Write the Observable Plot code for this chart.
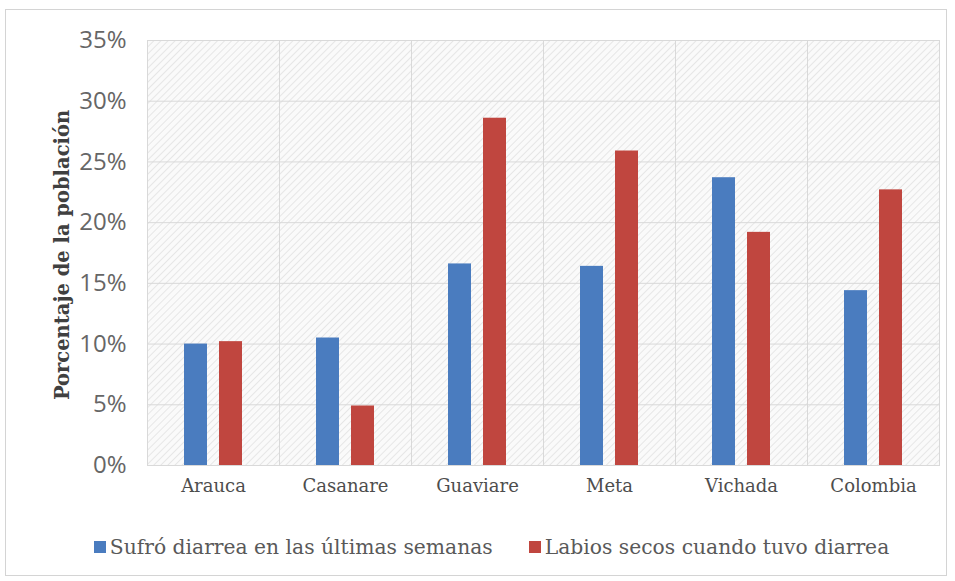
<!DOCTYPE html>
<html>
<head>
<meta charset="utf-8">
<script src="https://cdn.jsdelivr.net/npm/d3@7"></script>
<script src="https://cdn.jsdelivr.net/npm/@observablehq/plot@0.6"></script>
<style>
  body { margin: 0; background: #fff; }
  #wrap { position: relative; width: 955px; height: 581px; overflow: hidden; }
  #border { position: absolute; left: 5px; top: 9px; width: 942px; height: 567px; border: 1px solid #d4d4d4; box-sizing: border-box; }
  #chart { position: absolute; left: 0; top: 0; }
  #ytitle { position: absolute; left: 62px; top: 255px; transform: translate(-50%, -50%) rotate(-90deg); white-space: nowrap;
    font-family: "DejaVu Serif", serif; font-weight: bold; font-size: 19.5px; color: #404040; }
  #legend { position: absolute; top: 535px; left: 14px; width: 955px; display: flex; justify-content: center; gap: 36px;
    font-family: "DejaVu Serif", serif; font-size: 20.3px; color: #595959; }
  .item { display: flex; align-items: center; }
  .sw { width: 12px; height: 12px; margin-right: 4px; }
</style>
</head>
<body>
<div id="wrap">
  <div id="border"></div>
  <div id="chart"></div>
  <div id="ytitle">Porcentaje de la población</div>
  <div id="legend"></div>
</div>
<script>
const categories = ["Arauca", "Casanare", "Guaviare", "Meta", "Vichada", "Colombia"];
const series = ["Sufró diarrea en las últimas semanas", "Labios secos cuando tuvo diarrea"];
const sufroDiarrea = [0.100, 0.105, 0.166, 0.164, 0.237, 0.144];
const labiosSecos = [0.102, 0.049, 0.286, 0.259, 0.192, 0.227];
const yTicks = [0, 0.05, 0.10, 0.15, 0.20, 0.25, 0.30, 0.35];
const colors = ["#4a7cbf", "#c0463f"];

const data = [];
categories.forEach((c, i) => {
  data.push({cat: c, serie: series[0], value: sufroDiarrea[i]});
  data.push({cat: c, serie: series[1], value: labiosSecos[i]});
});

const svg = Plot.plot({
  width: 955,
  height: 500,
  marginTop: 40,
  marginBottom: 35,
  marginLeft: 145,
  marginRight: 14,
  style: {background: "transparent"},
  fx: {domain: categories, padding: 0, label: null},
  x: {domain: series, paddingInner: 0.33, paddingOuter: 1.0, axis: null},
  y: {domain: [0, 0.35], label: null},
  color: {domain: series, range: colors},
  marks: [
    Plot.frame({fill: "url(#hatch)", stroke: "#d9d9d9"}),
    Plot.gridY(yTicks, {stroke: "#d9d9d9", strokeOpacity: 1}),
    Plot.barY(data, {fx: "cat", x: "serie", y: "value", fill: "serie"}),
    Plot.axisY(yTicks, {tickFormat: d3.format(".0%"), tickSize: 0, tickPadding: 21, fontSize: 24,
      fontFamily: "Open Sans", fill: "#666666", label: null}),
    Plot.axisFx({anchor: "bottom", tickSize: 0, tickPadding: 14, fontSize: 18,
      fontFamily: "DejaVu Serif", fill: "#4d4d4d", label: null})
  ]
});

const defs = d3.select(svg).insert("defs", ":first-child");
const pat = defs.append("pattern").attr("id", "hatch").attr("patternUnits", "userSpaceOnUse")
  .attr("width", 5).attr("height", 5).attr("patternTransform", "rotate(45)");
pat.append("rect").attr("width", 5).attr("height", 5).attr("fill", "#fafafa");
pat.append("line").attr("x1", 0).attr("y1", 0).attr("x2", 0).attr("y2", 5)
  .attr("stroke", "#e2e2e2").attr("stroke-width", 1.6);

document.getElementById("chart").appendChild(svg);

const legend = d3.select("#legend");
series.forEach((s, i) => {
  const it = legend.append("div").attr("class", "item");
  it.append("div").attr("class", "sw").style("background", colors[i]);
  it.append("span").text(s);
});
</script>
</body>
</html>
